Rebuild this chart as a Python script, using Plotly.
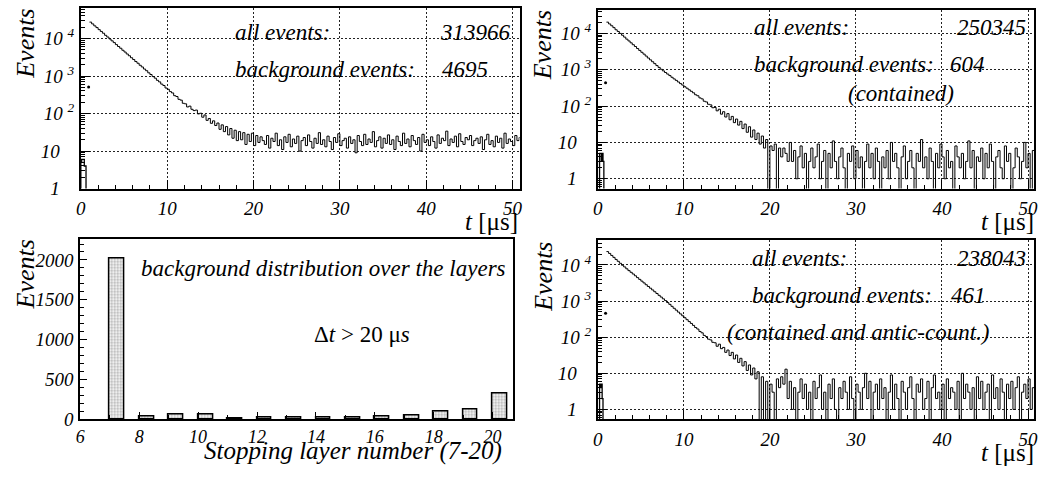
import plotly.graph_objects as go

W, H = 1043, 480

# ------------------------------------------------------------------ data
bin_width = 0.25          # µs
t_start = 1.0             # µs, left edge of first decay bin

# all events
counts_all = [
    27500, 24600, 21800, 19600, 17300, 15500, 13900, 12200, 11000, 9750,
    8700, 7800, 6900, 6150, 5520, 4880, 4380, 3880, 3480, 3080,
    2760, 2440, 2200, 1940, 1750, 1540, 1390, 1220, 1100, 970,
    880, 770, 700, 610, 560, 480, 445, 385, 355, 300,
    285, 240, 228, 188, 182, 150, 158, 130,
    120, 124, 98, 102, 80, 92, 66, 74, 55, 64,
    48, 56, 38, 50, 33, 45, 27, 40, 22, 36,
    19, 33, 20, 31, 15, 28, 18, 30, 14, 26,
    17, 24,
    19, 15, 26, 12, 22, 18, 30, 14, 20, 11, 24, 17, 28, 13, 21, 16, 25, 10, 19, 23,
    14, 27, 18, 12, 22, 16, 31, 15, 20, 13, 25, 18, 11, 23, 17, 29, 14, 19, 22, 12,
    24, 16, 20, 9, 26, 18, 14, 28, 15, 21, 17, 33, 13, 19, 24, 12, 22, 16, 27, 15,
    20, 11, 25, 18, 14, 30, 16, 21, 13, 26, 19, 15, 23, 10, 28, 17, 20, 14, 24, 18,
    12, 27, 16, 22, 19, 34, 14, 21, 17, 25, 13, 29, 18, 15, 23, 20, 26, 14, 19, 22,
    16, 24, 11, 20, 28, 15, 19, 13, 25, 17, 22, 12, 30, 16, 21, 18, 14, 26, 19, 23,
]

# contained events
counts_contained = [
    20400, 18200, 16200, 14400, 12600, 11300, 10000, 8900, 7900, 6950,
    6200, 5500, 4880, 4350, 3830, 3400, 3020, 2690, 2380, 2100,
    1870, 1660, 1470, 1300, 1160, 1030, 930, 840, 760, 690,
    620, 560, 510, 460, 415, 378, 340, 310, 280, 255,
    232, 205, 192, 168, 158, 136, 130, 112,
    108, 90, 92, 74, 82, 60, 70, 50, 62, 42,
    52, 35, 44, 30, 38, 24, 32, 19, 27, 14,
    22, 12, 18, 9, 15, 7, 12,
    0, 8, 6, 9, 0, 7, 4, 7, 5, 3,
    10, 3, 6, 1, 4, 8, 2, 5, 0, 3,
    7, 2, 4, 9, 1, 3, 6, 0, 5, 2,
    11, 3, 1, 4, 7, 2, 0, 5, 3, 8,
    1, 6, 2, 4, 0, 3, 9, 2, 5, 1,
    7, 3, 0, 4, 2, 6, 1, 10, 3, 5,
    2, 0, 4, 8, 1, 3, 6, 2, 0, 5,
    3, 12, 2, 4, 1, 7, 3, 0, 5, 2,
    9, 4, 1, 6, 2, 3, 0, 8, 4, 2,
    5, 1, 3, 11, 2, 6, 0, 4, 3, 7,
    1, 5, 2, 9, 3, 0, 4, 6, 2, 1,
    8, 3, 5, 0, 2, 7, 4, 1, 3, 10,
    2, 5, 0, 6, 3,
]

# contained and anticounter events
counts_antic = [
    23400, 20800, 18300, 16200, 14200, 12600, 11100, 9800, 8800, 7800,
    6950, 6250, 5600, 5000, 4450, 3980, 3560, 3180, 2830, 2530,
    2270, 2030, 1810, 1620, 1440, 1290, 1150, 1030, 910, 810,
    715, 630, 560, 495, 440, 390, 345, 305, 270, 240,
    212, 185, 168, 144, 132, 112, 104, 88,
    84, 72, 70, 56, 64, 48, 52, 38, 44, 31,
    38, 25, 32, 20, 26, 16, 21, 12, 17, 9,
    14, 7, 11, 0, 8,
    0, 6, 0, 5, 3, 0, 7, 4, 8, 5,
    13, 2, 6, 1, 4, 0, 3, 7, 2, 5,
    1, 3, 0, 6, 2, 4, 9, 1, 3, 0,
    5, 2, 7, 1, 0, 4, 2, 6, 3, 1,
    8, 2, 0, 5, 3, 1, 4, 10, 2, 6,
    0, 3, 5, 1, 7, 2, 4, 0, 3, 9,
    1, 5, 2, 0, 6, 3, 1, 4, 8, 2,
    0, 5, 3, 7, 1, 2, 6, 0, 4, 9,
    2, 3, 1, 5, 0, 7, 2, 4, 3, 1,
    6, 0, 10, 2, 5, 3, 1, 4, 0, 8,
    2, 6, 1, 3, 5, 0, 9, 2, 4, 1,
    7, 3, 0, 5, 2, 6, 1, 4, 8, 0,
    3, 5, 2, 7, 1, 4, 2,
]

# prompt region (first fraction of a µs)
prompt_width = 0.1
prompt_start = [0.0, 0.2, 0.2]
prompt_all = [5, 6, 6, 6, 4, 4]
prompt_contained = [5, 5, 3, 5, 3]
prompt_antic = [5, 4, 5, 2]

# isolated first (partial) bin
first_bin_t = [0.9, 0.9, 0.9]
first_bin_counts = [510, 440, 460]

# background distribution over stopping layers (dt > 20 us)
layers = [7, 8, 9, 10, 11, 12, 13, 14, 15, 16, 17, 18, 19, 20]
layer_counts = [2020, 40, 55, 60, 15, 20, 25, 25, 25, 30, 50, 95, 120, 320]
layer_bar_width = 0.5

time_ticks = [0, 10, 20, 30, 40, 50]
layer_ticks = [6, 8, 10, 12, 14, 16, 18, 20]
layer_count_ticks = [0, 500, 1000, 1500, 2000]
log_ticks = [1, 10, 100, 1000, 10000]

panel_labels = [
    ("313966", "4695", ""),
    ("250345", "604", "(contained)"),
    ("238043", "461", "(contained and antic-count.)"),
]

# ------------------------------------------------------------------ helpers
FONT = "Liberation Serif"
LOG_FLOOR = 0.1
NB = "\u00a0"


def hist_xy(start, width, counts):
    xs = [start + i * width for i in range(len(counts) + 1)]
    ys = [c if c > 0 else LOG_FLOOR for c in counts]
    ys = ys + [ys[-1]]
    return xs, ys


def prompt_xy(start, width, counts):
    ext = [0] + list(counts) + [0]
    xs = [start - width + i * width for i in range(len(ext))]
    ys = [c if c > 0 else LOG_FLOOR for c in ext]
    return xs, ys


def px_x(p):
    return p / W


def px_y(p):
    return 1 - p / H


def it(s):
    return "<i>" + s + "</i>"


tickfont = dict(family=FONT, size=19, color="black", style="italic")
GRID_DASH = "2px,2px"


def log_label(v):
    e = len(str(v)) - 1
    if e == 0:
        return it("1" + NB * 3)
    if e == 1:
        return it("10" + NB * 3)
    return it("10 <sup>%d</sup>" % e)


def log_axis(domain, rng, anchor):
    minor_vals = [k * 10 ** d for d in range(-1, 5) for k in range(2, 10)]
    return dict(
        domain=domain, type="log", range=rng, anchor=anchor, tickmode="array",
        tickvals=log_ticks, ticktext=[log_label(v) for v in log_ticks],
        ticks="inside", ticklen=9, tickwidth=1, tickcolor="black",
        minor=dict(tickmode="array", tickvals=minor_vals, ticks="inside", ticklen=4,
                   tickwidth=1, tickcolor="black", showgrid=False),
        showgrid=True, gridcolor="#222", griddash=GRID_DASH, gridwidth=1,
        showline=True, linecolor="black", linewidth=2, mirror=True,
        zeroline=False, tickfont=tickfont, ticklabelstandoff=1,
    )


def time_axis(domain, rng, anchor):
    return dict(
        domain=domain, range=rng, anchor=anchor, tickmode="array",
        tickvals=time_ticks, ticktext=[it(str(v)) for v in time_ticks],
        ticks="inside", ticklen=9, tickwidth=1, tickcolor="black",
        minor=dict(dtick=2, tick0=0, ticks="inside", ticklen=4, tickwidth=1,
                   tickcolor="black", showgrid=False),
        showgrid=True, gridcolor="#222", griddash=GRID_DASH, gridwidth=1,
        showline=True, linecolor="black", linewidth=2, mirror=True,
        zeroline=False, tickfont=tickfont, ticklabelstandoff=2,
    )


fig = go.Figure()

line_style = dict(color="black", width=1.0, shape="hv")
panels = [
    ("x", "y", counts_all, prompt_all, 0),
    ("x2", "y2", counts_contained, prompt_contained, 1),
    ("x4", "y4", counts_antic, prompt_antic, 2),
]
for xa, ya, cnts, prm, i in panels:
    xs, ys = hist_xy(t_start, bin_width, cnts)
    fig.add_trace(go.Scatter(x=xs, y=ys, mode="lines", line=line_style,
                             xaxis=xa, yaxis=ya, showlegend=False, hoverinfo="skip"))
    pxs, pys = prompt_xy(prompt_start[i], prompt_width, prm)
    fig.add_trace(go.Scatter(x=pxs, y=pys, mode="lines", line=dict(color="black", width=1.3, shape="hv"),
                             xaxis=xa, yaxis=ya, showlegend=False, hoverinfo="skip"))
    fig.add_trace(go.Scatter(x=[first_bin_t[i]], y=[first_bin_counts[i]], mode="markers",
                             marker=dict(color="black", size=3),
                             xaxis=xa, yaxis=ya, showlegend=False, hoverinfo="skip"))

# layer histogram
fig.add_trace(go.Bar(
    x=[l + layer_bar_width / 2 for l in layers], y=layer_counts, width=layer_bar_width,
    marker=dict(color="white", line=dict(color="black", width=1.5),
                pattern=dict(shape=".", fgcolor="#555", bgcolor="white", size=3, solidity=0.45)),
    xaxis="x3", yaxis="y3", showlegend=False, hoverinfo="skip",
))

# domains (pixels -> paper)
dom_tl_x = [px_x(76.5), px_x(519)]
dom_tl_y = [px_y(193), px_y(8)]
dom_tr_x = [px_x(598), px_x(1038)]
dom_tr_y = [px_y(193), px_y(10)]
dom_bl_x = [px_x(76), px_x(512)]
dom_bl_y = [px_y(429), px_y(245)]
dom_br_x = [px_x(598), px_x(1038)]
dom_br_y = [px_y(429), px_y(246)]

layout = dict(
    width=W, height=H, margin=dict(l=0, r=0, t=0, b=0),
    paper_bgcolor="white", plot_bgcolor="white", showlegend=False, bargap=0,
    xaxis=time_axis(dom_tl_x, [0, 50.8], "y"),
    yaxis=log_axis(dom_tl_y, [0, 4.82], "x"),
    xaxis2=time_axis(dom_tr_x, [0, 50.7], "y2"),
    yaxis2=log_axis(dom_tr_y, [-0.27, 4.65], "x2"),
    xaxis4=time_axis(dom_br_x, [0, 50.7], "y4"),
    yaxis4=log_axis(dom_br_y, [-0.27, 4.68], "x4"),
    xaxis3=dict(domain=dom_bl_x, range=[6, 20.68], anchor="y3", tickmode="array",
                tickvals=layer_ticks, ticktext=[it(str(v)) for v in layer_ticks],
                ticks="inside", ticklen=7, tickcolor="black",
                minor=dict(dtick=1, tick0=0, ticks="inside", ticklen=4, tickcolor="black"),
                showgrid=False, showline=True, linecolor="black", linewidth=2, mirror=True,
                zeroline=False, tickfont=tickfont | dict(size=18), ticklabelstandoff=0),
    yaxis3=dict(domain=dom_bl_y, range=[0, 2258], anchor="x3", tickmode="array",
                tickvals=layer_count_ticks, ticktext=[it(str(v)) for v in layer_count_ticks],
                ticks="inside", ticklen=7, tickcolor="black",
                minor=dict(dtick=100, tick0=0, ticks="inside", ticklen=4, tickcolor="black"),
                showgrid=False, showline=True, linecolor="black", linewidth=2, mirror=True,
                zeroline=False, tickfont=tickfont, ticklabelstandoff=1),
)
fig.update_layout(**layout)

# ------------------------------------------------------------------ text


def add_text(text, x, baseline, xanchor="left", size=23, italic=True, angle=0, yc=None):
    f = dict(family=FONT, size=size, color="black")
    if italic:
        text = it(text)
    ycen = yc if yc is not None else baseline - 0.25 * size
    fig.add_annotation(text=text, x=px_x(x), y=px_y(ycen), xref="paper", yref="paper",
                       xanchor=xanchor, yanchor="middle", showarrow=False, font=f,
                       textangle=angle)


# Events y titles
for xc, yc in [(21, 45), (543, 46), (21, 281), (543, 283)]:
    add_text("Events", xc, None, xanchor="center", size=26, angle=-90, yc=yc)

# t [µs] titles
for xr, yc in [(519, 227), (1040, 227), (1040, 463)]:
    add_text("<i>t</i> [μs]", xr, None, xanchor="right", size=25, italic=False, yc=yc)

# panel texts
panel_geo = [
    dict(x0=230, xr=512, b1=39, b2=77, xv=439, b3=None, x3=None),
    dict(x0=753, xr=1032, b1=34, b2=72, xv=951, b3=101, x3=848),
    dict(x0=751, xr=1032, b1=270, b2=308, xv=952, b3=346, x3=726),
]
for (tot, bkg, extra), g in zip(panel_labels, panel_geo):
    add_text("all events:", g["x0"], g["b1"])
    add_text(tot, g["xr"], g["b1"], xanchor="right")
    add_text("background events:", g["x0"], g["b2"])
    add_text(bkg, g["xv"], g["b2"])
    if extra:
        add_text(extra, g["x3"], g["b3"])

# bottom-left texts
add_text("background distribution over the layers", 135, 281)
add_text("Δ<i>t</i> &gt; 20 μ<i>s</i>", 310, 348, italic=False)
add_text("Stopping layer number (7-20)", 351, None, xanchor="center", size=25, yc=462)

fig.write_html("out.html")
